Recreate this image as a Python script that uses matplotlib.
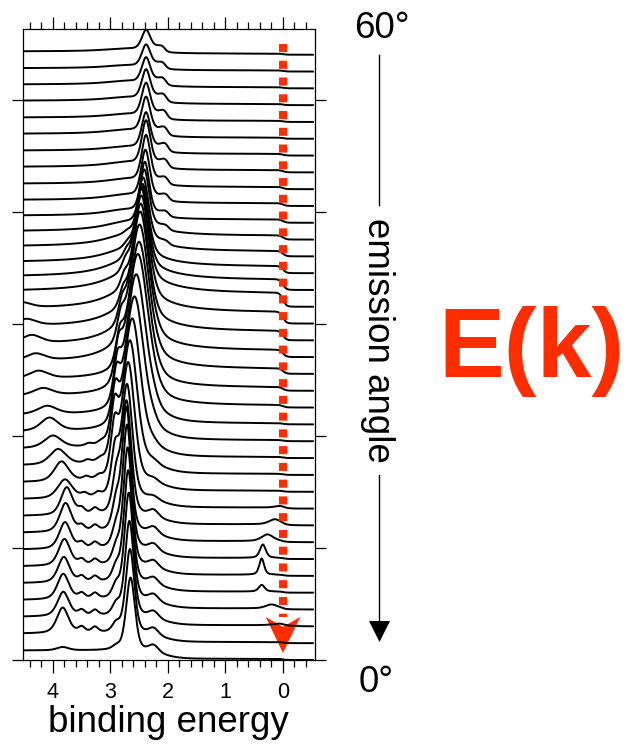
import numpy as np
import matplotlib.pyplot as plt
from matplotlib.lines import Line2D
from matplotlib.patches import Polygon

plt.rcParams['font.family'] = ['Liberation Sans', 'DejaVu Sans']

# spectra, index 0 = normal emission (bottom), 36 = 60 deg (top)
n_spec = 37
step = 1.5
energy = np.linspace(4.49, -0.52, 1000)

# level on the high binding energy side and plateau cut by the Fermi edge
bg_level = [0.75] * 15 + [0.8, 0.7, 0.6, 0.5, 0.4, 0.3, 0.2, 0.3, 0.4, 0.45, 0.4, 0.35, 0.3, 0.3,
                          0.3, 0.3, 0.35, 0.3, 0.3, 0.25, 0.2, 0.2]
bg_edge = [2.1] * 15 + [2.3] * 22
plateau = [0.1] * 15 + [0.2, 0.3, 0.45, 0.6, 0.8, 1.0, 1.2, 0.9, 0.6, 0.45, 0.35, 0.3, 0.25, 0.2,
                        0.2, 0.15, 0.1, 0.1, 0.1, 0.1, 0.1, 0.1]

# deep band
A_pos = [3.83, 3.83, 3.82, 3.82, 3.81, 3.80, 3.79, 3.78, 3.76, 3.79, 3.85, 3.91, 4.00, 4.06, 4.10,
         4.17, 4.25, 4.30, 4.37, 4.46, 4.55] + [4.6] * 16
A_amp = [0.3, 2.3, 2.2, 2.3, 2.3, 2.4, 2.4, 2.6, 2.5, 1.7, 1.8, 1.4, 1.1, 1.2, 0.75,
         0.65, 0.7, 0.65, 0.75, 0.6, 0.5] + [0.0] * 16
A_wid = [0.12] * 9 + [0.15, 0.15, 0.17, 0.18, 0.18, 0.2, 0.2, 0.2, 0.2, 0.2, 0.2, 0.2] + [0.2] * 16

# weak structures between 3.2 and 3.5 eV
W1_pos = [3.5] * 9 + [3.45, 3.42, 3.4, 3.38] + [3.4] * 24
W1_amp = [0.0] + [0.5] * 8 + [0.35, 0.3, 0.25, 0.2] + [0.0] * 24
W2_pos = [3.27] * 9 + [3.22, 3.2, 3.18, 3.16] + [3.2] * 24
W2_amp = [0.0] + [0.5] * 8 + [0.35, 0.3, 0.25, 0.2] + [0.0] * 24

# band near 2.9 eV riding on the flank of the main peak
B_pos = [2.9] * 9 + [2.92, 2.93, 2.93, 2.92, 2.9, 2.88, 2.86, 2.84, 2.82, 2.8, 2.78, 2.76,
                     2.74, 2.72, 2.7, 2.7] + [2.7] * 12
B_amp = [0.3, 0.8, 1.0, 1.2, 1.3, 1.5, 1.8, 2.5, 3.2, 4.0, 4.5, 4.5, 4.2, 3.8, 3.3, 2.8,
         2.4, 2.0, 1.7, 1.4, 1.2, 1.0, 0.8, 0.5, 0.3] + [0.0] * 12

# main dispersing band
M_pos = [2.65, 2.66, 2.67, 2.68, 2.69, 2.70, 2.71, 2.72, 2.72, 2.71, 2.69, 2.66, 2.62, 2.58,
         2.55, 2.52, 2.50, 2.49, 2.48, 2.47, 2.46, 2.46, 2.45, 2.44, 2.43, 2.41, 2.40, 2.39,
         2.38, 2.38, 2.38, 2.38, 2.38, 2.38, 2.38, 2.38, 2.38]
M_amp = [6.5, 7.5, 8.5, 9.5, 10.0, 10.5, 11.0, 11.0, 10.0, 10.0, 10.5, 11.0, 11.5, 12.0,
         12.5, 12.5, 12.0, 11.5, 11.0, 10.0, 9.0, 8.0, 7.0, 6.2, 5.5, 5.0, 4.6, 4.3,
         4.2, 4.0, 3.3, 3.2, 3.0, 2.7, 2.3, 2.0, 1.8]
M_wid = [0.09] * 8 + [0.1, 0.11, 0.13, 0.15, 0.17, 0.19, 0.2, 0.21, 0.2, 0.19, 0.18, 0.16,
                      0.15, 0.14, 0.13, 0.12, 0.11, 0.1] + [0.09] * 11
M_tail = [0.0] * 17 + [0.6] * 8 + [0.55, 0.5, 0.45, 0.4, 0.4, 0.35, 0.35, 0.3, 0.3, 0.3, 0.25, 0.25]
M_broad = [0.0] * 15 + [0.3, 0.4, 0.5, 0.6, 0.7, 0.8, 0.8, 0.7, 0.5, 0.4, 0.3] + [0.0] * 11

# shoulder at 2.25 eV
S1_amp = [0.6] * 9 + [0.3] * 6 + [0.0] * 22

# shoulder near 2.0 eV
S2_pos = [2.0] * 24 + [1.99, 1.99, 1.99, 1.99, 2.0, 2.0, 2.0, 2.01, 2.02, 2.03, 2.04, 2.05, 2.06]
S2_amp = [0.0] * 24 + [0.4, 0.5, 0.6, 0.7, 0.8, 0.9, 0.9, 0.9, 0.9, 0.85, 0.8, 0.7, 0.65]

# feature close to the Fermi level
F_pos = [0.0, 0.0, 0.05, 0.2, 0.37, 0.37, 0.35, 0.27, 0.14, 0.05] + [0.0] * 27
F_amp = [0.0, 0.0, 0.15, 0.35, 0.6, 1.45, 1.2, 0.6, 0.45, 0.15] + [0.0] * 27
F_wid = [0.1, 0.1, 0.15, 0.12, 0.06, 0.05, 0.06, 0.12, 0.12, 0.1] + [0.1] * 27


def peak(e, pos, amp, wid, eta=0.5):
    u = (e - pos) / wid
    return amp * (eta / (1 + u ** 2) + (1 - eta) * np.exp(-np.log(2) * u ** 2))


def edge(e, pos, amp, wid):
    # flat-topped hump with a sharp low-energy cutoff
    return amp / (1 + np.exp(-(e - pos) / 0.03)) * np.exp(-((e - pos) / wid) ** 2)


def spectrum(i):
    fermi = 1 / (1 + np.exp(-energy / 0.03))
    y = bg_level[i] / (1 + np.exp(-(energy - bg_edge[i]) / 0.15))
    y += plateau[i] * fermi
    y += peak(energy, A_pos[i], A_amp[i], A_wid[i])
    y += peak(energy, W1_pos[i], W1_amp[i], 0.07)
    y += peak(energy, W2_pos[i], W2_amp[i], 0.07)
    y += peak(energy, B_pos[i], B_amp[i], 0.08)
    y += peak(energy, M_pos[i], M_amp[i], M_wid[i], 0.4)
    y += peak(energy, M_pos[i] + 0.35, M_tail[i], 0.45, 1.0)
    y += peak(energy, M_pos[i], M_broad[i], 0.7, 1.0) * fermi
    y += peak(energy, 2.25, S1_amp[i], 0.1, 0.2)
    y += edge(energy, S2_pos[i], S2_amp[i], 0.2)
    y += peak(energy, F_pos[i], F_amp[i], F_wid[i])
    return y


fig = plt.figure(figsize=(6.31, 7.47), dpi=100)
W, H = 631, 747
ax = fig.add_axes([23 / W, 87 / H, 292 / W, 631 / H])

for i in range(n_spec):
    ax.plot(energy, spectrum(i) + i * step, color='black', lw=1.4)

ax.set_xlim(4.52, -0.557)
ax.set_ylim(0, 56.3)
ax.set_xticks([4, 3, 2, 1, 0])
ax.set_xticks(np.arange(-0.4, 4.5, 0.2), minor=True)
ax.set_yticks([0, 10, 20, 30, 40, 50])
ax.tick_params(axis='x', which='both', direction='out', top=True, bottom=True, labelsize=15.5, pad=7)
ax.tick_params(axis='x', which='major', length=9, width=0.9)
ax.tick_params(axis='x', which='minor', length=5, width=0.9)
ax.tick_params(axis='y', which='major', direction='out', left=True, right=True, length=8, width=0.9,
               labelleft=False)
for s in ax.spines.values():
    s.set_linewidth(0.9)
ax.set_xlabel('binding energy', fontsize=26.5, va='top')
ax.xaxis.set_label_coords(0.498, -0.0713)

red = '#ff2d00'
# dotted arrow along the Fermi level
ax.plot([0, 0], [55.0, 3.8], color=red, lw=5.8, linestyle=(0, (1, 1.08)), solid_capstyle='butt')
ax.add_patch(Polygon([(0, 0.62), (0.30, 3.84), (0, 2.95), (-0.30, 3.84)], closed=True,
                     color=red, lw=0, clip_on=False))


def fx(x):
    return x / W


def fy(y):
    return 1 - y / H


fig.text(fx(382), fy(28), '60°', fontsize=26.5, ha='center', va='center')
fig.text(fx(376), fy(683), '0°', fontsize=26.5, ha='center', va='center')
fig.text(fx(377), fy(340), 'emission angle', fontsize=26.5, rotation=270, ha='center', va='center')
fig.add_artist(Line2D([fx(379), fx(379)], [fy(55), fy(205)], color='black', lw=1.0))
fig.add_artist(Line2D([fx(379), fx(379)], [fy(475), fy(624)], color='black', lw=1.0))
fig.add_artist(Polygon([(fx(369), fy(621)), (fx(390), fy(621)), (fx(379.5), fy(642))],
                       closed=True, color='black', lw=0))
fig.text(fx(438), fy(377), 'E(k)', fontsize=71, fontweight='bold', color=red, ha='left', va='baseline')

fig.savefig('out.png', dpi=100)
